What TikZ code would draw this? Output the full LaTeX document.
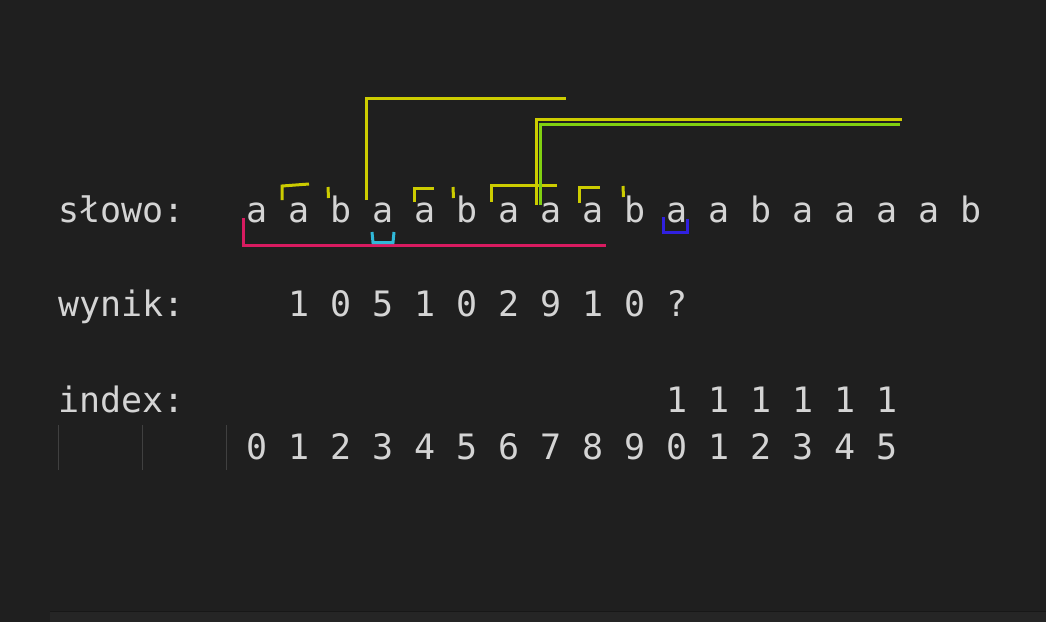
\documentclass[tikz,border=0pt]{standalone}
\usepackage{fontspec}
\setmonofont{DejaVu Sans Mono}
\definecolor{bg}{HTML}{1F1F1F}
\definecolor{fg}{HTML}{D4D4D4}
\definecolor{guide}{HTML}{404040}
\definecolor{panel}{HTML}{252525}
\definecolor{panelline}{HTML}{171717}
\definecolor{ylw}{HTML}{CCCC00}
\definecolor{grn}{HTML}{80D010}
\definecolor{pnk}{HTML}{D81B60}
\definecolor{cyn}{HTML}{30B8D8}
\definecolor{blu}{HTML}{3020E0}
\begin{document}
\begin{tikzpicture}[x=1pt,y=-1pt,
  txt/.style={font=\ttfamily\fontsize{35}{42}\selectfont, text=fg, inner sep=0pt, anchor=base},
  lbl/.style={txt, anchor=base west},
  mark ylw/.style={draw=ylw, line width=3pt},
  mark grn/.style={draw=grn, line width=3pt},
  mark pnk/.style={draw=pnk, line width=3pt},
  mark cyn/.style={draw=cyn, line width=3pt},
  mark blu/.style={draw=blu, line width=3pt},
  guideline/.style={draw=guide, line width=1pt}]
\fill[bg] (0,0) rectangle (1046,622);
\useasboundingbox (0,0) rectangle (1046,622);
% bottom panel
\fill[panel] (50,612) rectangle (1046,622);
\draw[panelline, line width=1.5pt] (50,611.5) -- (1046,611.5);
% labels
\node[lbl] (lslowo) at (58,222) {słowo:};
\node[lbl] (lwynik) at (58,316) {wynik:};
\node[lbl] (lindex) at (58,412.5) {index:};
% word
\foreach \c [count=\i from 0] in {a,a,b,a,a,b,a,a,a,b,a,a,b,a,a,a,a,b}
  \node[txt] (w\i) at ({257.5+42*\i},222) {\c};
% result
\foreach \c [count=\i from 0] in {1,0,5,1,0,2,9,1,0,?}
  \node[txt] (r\i) at ({299.5+42*\i},316) {\c};
% index tens
\foreach \i in {0,...,5}
  \node[txt] (t\i) at ({677.5+42*\i},412.5) {1};
% index units
\foreach \c [count=\i from 0] in {0,1,2,3,4,5,6,7,8,9,0,1,2,3,4,5}
  \node[txt] (u\i) at ({257.5+42*\i},459) {\c};
% indent guides
\foreach \x in {58.5,142.5,226.5}
  \draw[guideline] (\x,425) -- (\x,470);
% pink bracket
\draw[mark pnk] (243,218) -- (243,245) -- (606,245);
% cyan bracket
\draw[mark cyn] (372,232) -- (373,242.5) -- (393,242.5) -- (394,232);
% blue bracket
\draw[mark blu] (663,217) -- (663,232.5) -- (687,232.5) -- (687,219);
% small yellow brackets and ticks
\draw[mark ylw] (282,200) -- (282,186) -- (309,184);
\draw[mark ylw] (328,187) -- (328.5,198);
\draw[mark ylw] (414,202) -- (414,188.5) -- (434,188.5);
\draw[mark ylw] (453,187) -- (453.5,198);
\draw[mark ylw] (491,202) -- (491,185) -- (557,185);
\draw[mark ylw] (579,203) -- (579,187) -- (600,187);
\draw[mark ylw] (623,186) -- (623.5,197);
% big yellow brackets
\draw[mark ylw] (366,200) -- (366,98) -- (566,98);
\draw[mark ylw] (536,205) -- (536,119.5) -- (902,119.5);
\draw[mark grn] (540,205) -- (540,124) -- (900,124);
\end{tikzpicture}
\end{document}
